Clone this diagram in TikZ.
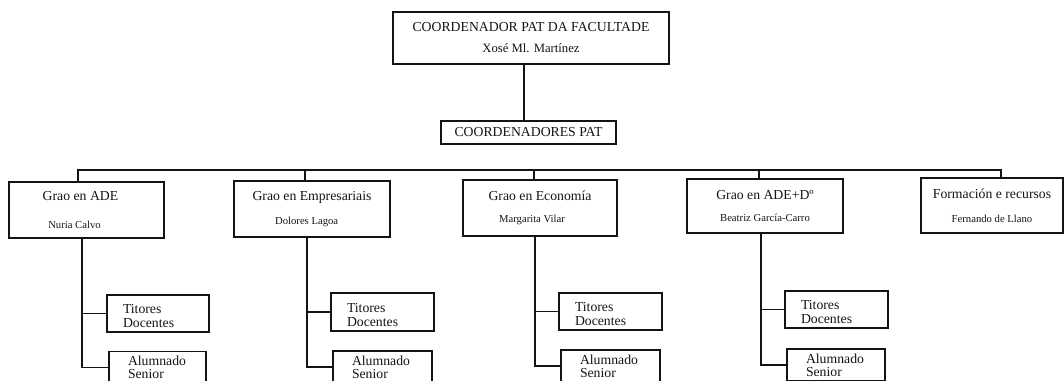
\documentclass[tikz,border=0pt]{standalone}
\usepackage{fontspec}
\setmainfont{Liberation Serif}
\usetikzlibrary{positioning, calc}
\definecolor{tinta}{HTML}{141414}
\newcommand{\nome}[1]{{\fontsize{8}{9.6}\selectfont #1}}
\newcommand{\alto}{\rule{0pt}{11pt}}
\tikzset{
  caixa/.style={draw=tinta, text=tinta, line width=1pt, rectangle, inner sep=0pt, align=center, font=\fontsize{10.3}{12}\selectfont},
  grao/.style={caixa, minimum width=117pt, minimum height=42pt},
  titores/.style={caixa, align=left, font=\fontsize{10.3}{10.5}\selectfont, text width=52.5pt, inner xsep=12pt, minimum height=27.75pt},
  alumnado/.style={caixa, align=left, font=\fontsize{10.3}{10}\selectfont, text width=45.75pt, inner xsep=14.25pt, minimum height=24pt},
  lina/.style={draw=tinta, line width=1.1pt}
}

\begin{document}
\begin{tikzpicture}[x=0.75pt, y=-0.75pt]
  \useasboundingbox (0,0) rectangle (1064,380);
  \clip (0,0) rectangle (1064,380);

  % Coordinacion da facultade
  \node[caixa, minimum width=207pt, minimum height=39pt] (facultade) at (531,38)
    {COORDENADOR PAT DA FACULTADE\\[3.7pt]{\fontsize{9.5}{11}\selectfont Xosé Ml. Martínez}};
  \node[caixa, minimum width=131.25pt, minimum height=17.25pt] (coordpat) at (528.5,132.5) {COORDENADORES PAT};
  \coordinate (eixo) at (524,0);
  \draw[lina] (facultade.south -| eixo) -- (coordpat.north -| eixo);

  % Graos
  \node[grao, minimum width=116.25pt] (ade) at (86.5,210) {Grao en ADE\hspace*{9pt}\\[8.5pt]\nome{Nuria Calvo}\hspace*{18pt}};
  \node[grao] (empresariais) at (312,209) {Grao en Empresariais\\[5.5pt]\nome{Dolores Lagoa}\hspace*{8pt}};
  \node[grao, minimum width=115.5pt] (economia) at (540,208) {Grao en Economía\\[4pt]\nome{Margarita Vilar}\hspace*{12pt}};
  \node[grao, minimum height=40.5pt] (adedereito) at (765,206) {Grao en ADE+Dº\\[4pt]\nome{Beatriz García-Carro}};
  \node[grao, minimum width=106.5pt, minimum height=41.25pt] (recursos) at (992,205.5) {Formación e recursos\\[6.25pt]\nome{Fernando de Llano}};

  % Barra horizontal
  \coordinate (bus1) at (78,170);
  \coordinate (bus2) at (305,170);
  \coordinate (bus3) at (534,170);
  \coordinate (bus4) at (759,170);
  \coordinate (bus5) at (1001,170);
  \draw[lina] (ade.north -| bus1) -- (bus1) -- (bus5) -- (recursos.north -| bus5);
  \foreach \b/\n in {bus2/empresariais, bus3/economia, bus4/adedereito}
    \draw[lina] (\b) -- (\n.north -| \b);

  % Titores e alumnado
  \node[titores] (tit1) at (158,313.5) {\alto Titores\\Docentes};
  \node[alumnado, text width=44.25pt] (alu1) at (157.5,367.5) {Alumnado\\Senior};
  \node[titores, text width=53.25pt, minimum height=28.5pt] (tit2) at (382.5,312) {\alto Titores\\Docentes};
  \node[alumnado] (alu2) at (382.5,367) {Alumnado\\Senior};
  \node[titores, text width=53.25pt] (tit3) at (610.5,311.5) {\alto Titores\\Docentes};
  \node[alumnado] (alu3) at (610.5,366) {Alumnado\\Senior};
  \node[titores, text width=53.25pt] (tit4) at (836.5,309.5) {\alto Titores\\Docentes};
  \node[alumnado, text width=45pt] (alu4) at (836,365) {Alumnado\\Senior};

  \foreach \n/\t/\a/\x in {ade/tit1/alu1/82, empresariais/tit2/alu2/307, economia/tit3/alu3/535, adedereito/tit4/alu4/761} {
    \coordinate (talo) at (\x,0);
    \draw[lina] (\n.south -| talo) |- (\a.west);
    \draw[lina] (\t.west) -- (\t.west -| talo);
  }
\end{tikzpicture}
\end{document}
